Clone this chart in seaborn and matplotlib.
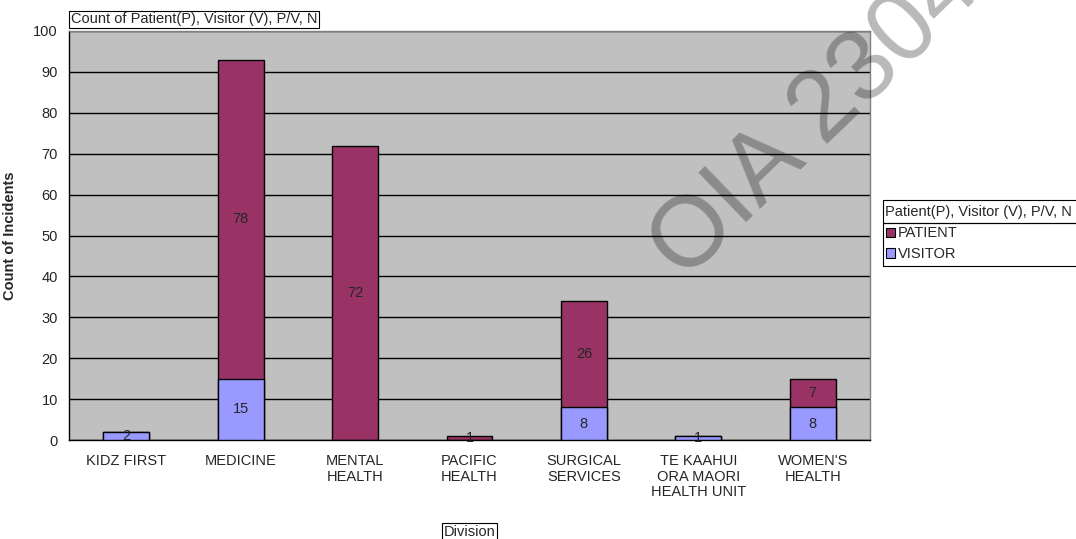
import numpy as np
import pandas as pd
import seaborn as sns
import matplotlib as mpl
from matplotlib import pyplot as plt
from matplotlib.patches import Patch, Rectangle

divisions = ['KIDZ FIRST', 'MEDICINE', 'MENTAL\nHEALTH', 'PACIFIC\nHEALTH',
             'SURGICAL\nSERVICES', 'TE KAAHUI\nORA MAORI\nHEALTH UNIT', "WOMEN'S\nHEALTH"]
patient = [0, 78, 72, 1, 26, 0, 7]
visitor = [2, 15, 0, 0, 8, 1, 8]

PATIENT_COL = '#993366'
VISITOR_COL = '#9999FF'
FS = 10.5

sns.set_style('white')
plt.rcParams['font.family'] = ['Liberation Sans', 'DejaVu Sans']

W, H = 1076, 539
fig = plt.figure(figsize=(W / 100, H / 100), dpi=100)
ax = fig.add_axes([69 / W, 1 - 440 / H, 801 / W, 409 / H])
ax.set_facecolor('#C0C0C0')

df = pd.DataFrame({'division': divisions, 'patient': patient, 'visitor': visitor})
df['total'] = df['patient'] + df['visitor']

sns.barplot(data=df, x='division', y='total', color=PATIENT_COL, width=0.4,
            edgecolor='black', linewidth=1, saturation=1, ax=ax, zorder=3)
sns.barplot(data=df, x='division', y='visitor', color=VISITOR_COL, width=0.4,
            edgecolor='black', linewidth=1, saturation=1, ax=ax, zorder=3)

# value labels centred in each segment
for i, (p, v) in enumerate(zip(patient, visitor)):
    if v:
        ax.text(i, v / 2, str(v), ha='center', va='center', fontsize=FS, zorder=4)
    if p:
        ax.text(i, v + p / 2, str(p), ha='center', va='center', fontsize=FS, zorder=4)

ax.set_ylim(0, 100)
ax.set_xlim(-0.5, len(divisions) - 0.5)
ax.set_yticks(range(0, 101, 10))
ax.yaxis.grid(True, color='black', linewidth=1)
ax.set_axisbelow(True)
ax.set_xticks(np.arange(-0.5, len(divisions)), minor=True)
ax.tick_params(axis='x', which='major', length=0, pad=10, labelsize=FS)
ax.tick_params(axis='x', which='minor', length=5, width=1, color='black', direction='out')
ax.tick_params(axis='y', length=5, width=1, color='black', direction='out', labelsize=FS, pad=3)
for lab in ax.get_xticklabels():
    lab.set_linespacing(1.15)
ax.set_xlabel('')
ax.set_ylabel('Count of Incidents', fontsize=FS, fontweight='bold')
ax.yaxis.set_label_coords((17.5 - 69) / 801, 0.5)
for s in ['left', 'bottom']:
    ax.spines[s].set_color('black')
    ax.spines[s].set_linewidth(1)
for s in ['top', 'right']:
    ax.spines[s].set_color('#808080')
    ax.spines[s].set_linewidth(1)

# field buttons
btn = dict(boxstyle='square,pad=0.12', fc='white', ec='black', lw=0.8)
fig.text(71 / W, 1 - 19.5 / H, 'Count of Patient(P), Visitor (V), P/V, N',
         fontsize=FS, ha='left', va='center', bbox=btn)
fig.text(469.5 / W, 1 - 532 / H, 'Division', fontsize=FS, ha='center', va='center', bbox=btn)

# legend
fig.add_artist(Rectangle((883 / W, 1 - 223 / H), 200 / W, 23 / H, transform=fig.transFigure,
                         fill=False, ec='black', lw=0.8))
fig.add_artist(Rectangle((883 / W, 1 - 266 / H), 200 / W, 43 / H, transform=fig.transFigure,
                         fill=False, ec='black', lw=0.8))
fig.text(885 / W, 1 - 212 / H, 'Patient(P), Visitor (V), P/V, N', fontsize=FS, ha='left', va='center')
handles = [Patch(facecolor=PATIENT_COL, edgecolor='black', lw=0.8),
           Patch(facecolor=VISITOR_COL, edgecolor='black', lw=0.8)]
fig.legend(handles, ['PATIENT', 'VISITOR'], loc='upper left',
           bbox_to_anchor=(885 / W, 1 - 225 / H), frameon=False, fontsize=FS,
           handlelength=0.6, handleheight=0.6, handletextpad=0.2,
           labelspacing=0.45, borderpad=0.1, borderaxespad=0)

# watermark
fig.text(684 / W, 1 - 282 / H, 'OIA 2304', rotation=44, rotation_mode='anchor',
         ha='left', va='baseline', fontsize=72, color='black', alpha=0.28, zorder=10)

fig.savefig('out.png', dpi=100)
